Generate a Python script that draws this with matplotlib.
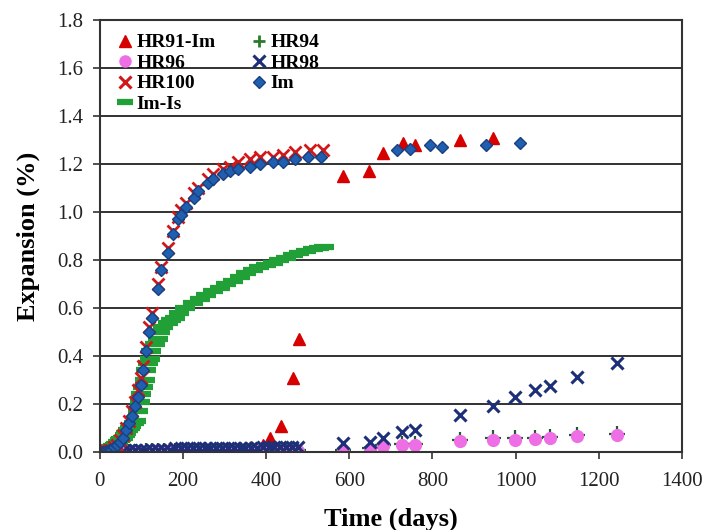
import matplotlib
matplotlib.use("Agg")
import matplotlib.pyplot as plt
from matplotlib.lines import Line2D
import numpy as np

plt.rcParams['font.family'] = ['Liberation Serif', 'DejaVu Serif']

# Im (blue diamonds)
im_days = [0, 7, 14, 21, 28, 35, 42, 49, 56, 63, 70, 77, 84, 91, 98, 105, 112, 119, 126,
           140, 148, 163, 176, 188, 196, 208, 226, 236, 260, 272, 296, 313, 332, 361, 385,
           416, 440, 469, 500, 533, 714, 746, 794, 822, 930, 1010]
im_exp = [0.0, 0.0, 0.005, 0.01, 0.01, 0.02, 0.03, 0.04, 0.06, 0.09, 0.12, 0.15, 0.19, 0.23,
          0.28, 0.34, 0.42, 0.50, 0.56, 0.68, 0.76, 0.83, 0.91, 0.97, 0.99, 1.02, 1.06, 1.09,
          1.12, 1.14, 1.16, 1.17, 1.18, 1.19, 1.20, 1.21, 1.21, 1.22, 1.23, 1.23,
          1.26, 1.265, 1.28, 1.27, 1.28, 1.29]

# HR100 (red x)
hr100_days = [0, 7, 14, 21, 28, 35, 42, 49, 56, 63, 70, 77, 84, 91, 98, 105, 112, 119, 126,
              140, 148, 163, 176, 188, 196, 208, 226, 236, 260, 272, 296, 313, 332, 361, 385,
              416, 440, 469, 505, 537]
hr100_exp = [0.0, 0.0, 0.005, 0.01, 0.01, 0.02, 0.03, 0.05, 0.07, 0.10, 0.13, 0.17, 0.21,
             0.26, 0.31, 0.36, 0.44, 0.52, 0.58, 0.70, 0.77, 0.85, 0.92, 0.98, 1.01, 1.04,
             1.08, 1.10, 1.14, 1.16, 1.18, 1.19, 1.21, 1.22, 1.23, 1.23, 1.24, 1.25, 1.26, 1.26]

# HR91-Im (red triangles)
hr91_days = [0, 14, 28, 56, 84, 112, 140, 168, 196, 224, 252, 280, 308, 336, 364, 392, 409,
             435, 465, 480, 585, 648, 681, 729, 758, 866, 946]
hr91_exp = [0.0, 0.0, 0.005, 0.005, 0.01, 0.01, 0.01, 0.01, 0.01, 0.01, 0.01, 0.01, 0.01,
            0.015, 0.02, 0.03, 0.06, 0.11, 0.31, 0.47, 1.15, 1.17, 1.245, 1.29, 1.28, 1.30, 1.31]

# Im-Is (green dashes)
imis_days = [0, 4, 8, 12, 16, 20, 24, 28, 32, 36, 40, 44, 48, 52, 56, 60, 64, 68, 72, 76,
             82, 88, 91, 96, 100, 104, 108, 112, 116, 120, 124, 132, 140, 144, 152, 163,
             172, 180, 190, 206, 224, 240, 256, 272, 288, 304, 320, 336, 352, 368, 384,
             400, 416, 432, 448, 464, 480, 496, 512, 528, 540]
imis_exp = [0.0, 0.0, 0.005, 0.005, 0.01, 0.01, 0.015, 0.02, 0.025, 0.03, 0.035, 0.04,
            0.05, 0.055, 0.06, 0.07, 0.08, 0.09, 0.10, 0.11, 0.12, 0.13, 0.17, 0.21, 0.24,
            0.27, 0.30, 0.34, 0.37, 0.39, 0.42, 0.45, 0.47, 0.50, 0.52, 0.54, 0.55, 0.56,
            0.58, 0.60, 0.62, 0.64, 0.655, 0.67, 0.685, 0.70, 0.715, 0.73, 0.745, 0.76,
            0.77, 0.78, 0.79, 0.80, 0.81, 0.82, 0.83, 0.84, 0.845, 0.85, 0.855]

# HR94 (green +), HR96 (pink circles), HR98 (navy x)
low_days = [40, 55, 70, 84, 98, 112, 126, 140, 154, 168, 182, 196, 210, 224, 238, 252, 266,
            280, 294, 308, 322, 336, 350, 364, 378, 392, 406, 420, 434, 448, 462, 476,
            585, 650, 681, 726, 758, 866, 946, 998, 1046, 1082, 1147, 1243]
hr94_exp = [0.0, 0.0, 0.0, 0.0, 0.0, 0.005, 0.005, 0.005, 0.005, 0.005, 0.005, 0.005, 0.005,
            0.005, 0.005, 0.005, 0.005, 0.005, 0.005, 0.005, 0.005, 0.005, 0.005, 0.005,
            0.005, 0.005, 0.005, 0.01, 0.01, 0.01, 0.01, 0.01,
            0.01, 0.015, 0.03, 0.033, 0.033, 0.05, 0.057, 0.057, 0.06, 0.064, 0.07, 0.074]
hr96_exp = [0.0, 0.0, 0.0, 0.0, 0.0, 0.0, 0.0, 0.0, 0.0, 0.0, 0.0, 0.0, 0.0, 0.0, 0.0, 0.0,
            0.0, 0.0, 0.0, 0.0, 0.0, 0.0, 0.0, 0.0, 0.005, 0.005, 0.005, 0.005, 0.005,
            0.005, 0.005, 0.005,
            0.005, 0.01, 0.025, 0.028, 0.028, 0.045, 0.052, 0.052, 0.055, 0.06, 0.065, 0.07]
hr98_exp = [0.005, 0.005, 0.01, 0.01, 0.01, 0.01, 0.01, 0.01, 0.01, 0.01, 0.015, 0.015,
            0.015, 0.015, 0.015, 0.015, 0.015, 0.015, 0.015, 0.015, 0.015, 0.015, 0.015,
            0.015, 0.015, 0.02, 0.02, 0.02, 0.02, 0.02, 0.02, 0.02,
            0.036, 0.043, 0.06, 0.085, 0.09, 0.154, 0.19, 0.228, 0.258, 0.275, 0.314, 0.372]

fig, ax = plt.subplots(figsize=(7.03, 5.3), dpi=100)
fig.subplots_adjust(left=0.142, right=0.970, bottom=0.147, top=0.962)

ax.set_axisbelow(True)
ax.grid(axis='y', color='#222222', linewidth=1.3)

c_hr91 = '#d60000'
c_hr94 = '#1f5a2a'
c_hr96 = '#ee6ee6'
c_hr98 = '#1c2f78'
c_hr100 = '#d01818'
c_im = '#1f5fb0'
c_imis = '#22a038'

ax.plot(imis_days, imis_exp, linestyle='none', marker='_', ms=15, mew=4.5, color=c_imis)
ax.plot(hr91_days, hr91_exp, linestyle='none', marker='^', ms=8, color=c_hr91, mec=c_hr91)
ax.plot(low_days, hr94_exp, linestyle='none', marker='+', ms=12, mew=1.6, color=c_hr94)
ax.plot(low_days, hr96_exp, linestyle='none', marker='o', ms=8.5, color=c_hr96, mec=c_hr96)
ax.plot(low_days, hr98_exp, linestyle='none', marker='x', ms=9, mew=2.2, color=c_hr98)
ax.plot(hr100_days, hr100_exp, linestyle='none', marker='x', ms=9, mew=2.0, color=c_hr100)
ax.plot(im_days, im_exp, linestyle='none', marker='D', ms=6.5, color=c_im, mec='#1a3f80')

handles = [
    Line2D([], [], linestyle='none', marker='^', ms=8, color=c_hr91, label='HR91-Im'),
    Line2D([], [], linestyle='none', marker='o', ms=8, color=c_hr96, label='HR96'),
    Line2D([], [], linestyle='none', marker='x', ms=8, mew=2.2, color=c_hr100, label='HR100'),
    Line2D([], [], linestyle='none', marker='_', ms=12, mew=4.5, color=c_imis, label='Im-Is'),
    Line2D([], [], linestyle='none', marker='+', ms=9, mew=2, color='#2a7a2a', label='HR94'),
    Line2D([], [], linestyle='none', marker='x', ms=8, mew=2.2, color=c_hr98, label='HR98'),
    Line2D([], [], linestyle='none', marker='D', ms=6, color=c_im, mec='#1a3f80', label='Im'),
]
ax.legend(handles=handles, ncol=2, loc='upper left', frameon=False,
          prop={'weight': 'bold', 'size': 14}, handletextpad=0.0, handlelength=1.2,
          columnspacing=1.6, labelspacing=0.15, borderaxespad=0.3,
          bbox_to_anchor=(0.0, 1.0))

ax.set_xlim(0, 1400)
ax.set_ylim(0, 1.8)
ax.set_xticks(np.arange(0, 1401, 200))
ax.set_yticks(np.arange(0, 1.81, 0.2))
ax.yaxis.set_major_formatter(matplotlib.ticker.FormatStrFormatter('%.1f'))
ax.tick_params(axis='both', labelsize=15, direction='out', length=5, width=1.2,
               color='#333333', labelcolor='#222222')
ax.tick_params(axis='x', pad=9)
ax.tick_params(axis='y', pad=7)
for s in ax.spines.values():
    s.set_color('#333333')
    s.set_linewidth(1.5)

ax.set_xlabel('Time (days)', fontsize=19, fontweight='bold', labelpad=12)
ax.set_ylabel('Expansion (%)', fontsize=19, fontweight='bold', labelpad=12)

fig.savefig('out.png', dpi=100)
